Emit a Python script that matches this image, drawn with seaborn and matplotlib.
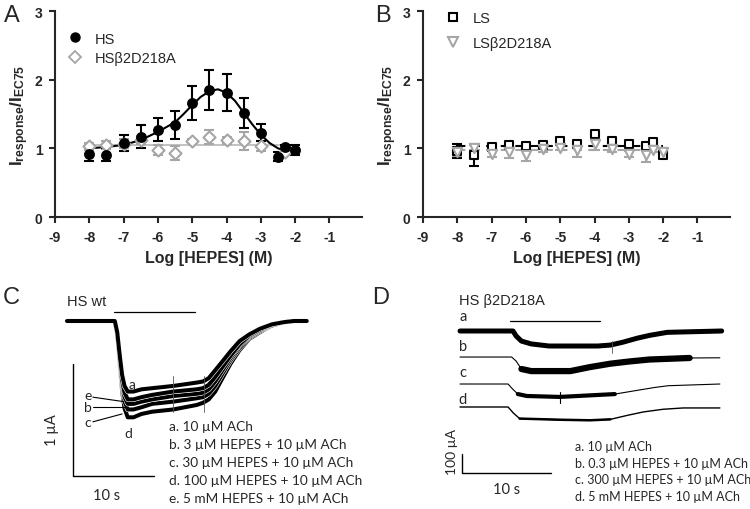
"""
HEPES modulation of HS / LS receptors: concentration-response and current traces.
"""
import matplotlib
matplotlib.use('Agg')
import matplotlib.pyplot as plt
import matplotlib.patheffects as pe
from matplotlib.lines import Line2D
import seaborn as sns
import pandas as pd

# ---- panel A: log[HEPES] vs normalised response ----
hs_logc = [-8, -7.5, -7, -6.5, -6, -5.5, -5, -4.5, -4, -3.5, -3, -2.5, -2.3, -2]
hs_resp = [0.92, 0.91, 1.08, 1.17, 1.27, 1.34, 1.66, 1.85, 1.81, 1.52, 1.23, 0.88, 1.02, 0.98]
hs_err = [0.10, 0.10, 0.12, 0.17, 0.17, 0.21, 0.25, 0.29, 0.27, 0.22, 0.12, 0.06, 0.03, 0.07]
hs_fit_x = [-8, -7.5, -7, -6.5, -6, -5.5, -5.25, -5, -4.75, -4.5, -4.25, -4,
            -3.75, -3.5, -3.25, -3, -2.75, -2.5, -2.3]
hs_fit_y = [1.00, 1.02, 1.05, 1.12, 1.24, 1.38, 1.50, 1.63, 1.75, 1.83, 1.86, 1.81,
            1.69, 1.52, 1.35, 1.20, 1.08, 1.00, 0.97]

hsm_logc = [-8, -7.5, -7, -6.5, -6, -5.5, -5, -4.5, -4, -3.5, -3, -2.3]
hsm_resp = [1.03, 1.05, 1.07, 1.12, 0.98, 0.93, 1.11, 1.16, 1.12, 1.11, 1.03, 0.94]
hsm_err = [0.05, 0.06, 0.07, 0.06, 0.07, 0.10, 0.03, 0.10, 0.05, 0.13, 0.07, 0.04]
hsm_fit_x = [-8, -2.3]
hsm_fit_y = [1.05, 1.05]

# ---- panel B ----
ls_logc = [-8, -7.5, -7, -6.5, -6, -5.5, -5, -4.5, -4, -3.5, -3, -2.5, -2.3, -2]
ls_resp = [0.96, 0.90, 1.02, 1.05, 1.03, 1.05, 1.10, 1.06, 1.21, 1.11, 1.06, 1.04, 1.09, 0.91]
ls_err = [0.10, 0.15, 0.04, 0.03, 0.04, 0.03, 0.03, 0.03, 0.03, 0.03, 0.03, 0.03, 0.03, 0.05]
lsm_resp = [0.94, 1.01, 0.92, 0.94, 0.90, 0.99, 1.01, 0.98, 1.07, 0.99, 0.92, 0.90, 0.98, 0.94]
lsm_err = [0.05, 0.04, 0.04, 0.08, 0.08, 0.05, 0.04, 0.10, 0.10, 0.04, 0.04, 0.10, 0.03, 0.03]
ls_fit_x = [-8, -2]
ls_fit_y = [1.04, 1.04]
lsm_fit_y = [0.97, 0.97]

# ---- panel C: HS wt traces (s, uA) ----
c_time = [0, 5.9, 6.2, 6.5, 6.8, 7.1, 7.5, 8.2, 9.2, 10.5, 13.1, 16.0, 16.8, 17.5,
          18.3, 19.2, 20.2, 21.3, 22.5, 23.8, 25.3, 26.8, 28.0, 29.6]
c_traces = {
    'a': [0, 0, -0.10, -0.30, -0.48, -0.58, -0.63, -0.63, -0.61, -0.60, -0.58, -0.55, -0.54, -0.51,
          -0.44, -0.36, -0.27, -0.18, -0.12, -0.07, -0.03, -0.01, 0, 0],
    'e': [0, 0, -0.11, -0.33, -0.53, -0.64, -0.70, -0.70, -0.68, -0.66, -0.63, -0.61, -0.60, -0.57,
          -0.50, -0.41, -0.31, -0.21, -0.13, -0.08, -0.03, -0.01, 0, 0],
    'b': [0, 0, -0.11, -0.34, -0.55, -0.68, -0.74, -0.74, -0.72, -0.70, -0.67, -0.65, -0.64, -0.61,
          -0.54, -0.44, -0.33, -0.22, -0.14, -0.08, -0.04, -0.01, 0, 0],
    'c': [0, 0, -0.12, -0.36, -0.58, -0.72, -0.79, -0.79, -0.77, -0.74, -0.72, -0.69, -0.68, -0.65,
          -0.58, -0.47, -0.35, -0.24, -0.15, -0.09, -0.04, -0.01, 0, 0],
    'd': [0, 0, -0.12, -0.38, -0.62, -0.78, -0.86, -0.86, -0.83, -0.81, -0.79, -0.75, -0.73, -0.70,
          -0.63, -0.51, -0.38, -0.26, -0.16, -0.10, -0.04, -0.01, 0, 0],
}
c_legend = ['a. 10 µM ACh', 'b. 3 µM HEPES + 10 µM ACh', 'c. 30 µM HEPES + 10 µM ACh',
            'd. 100 µM HEPES + 10 µM ACh', 'e. 5 mM HEPES + 10 µM ACh']

# ---- panel D: HS b2D218A traces (s, uA, each relative to its own baseline) ----
d_time = {
    'a': [0, 5.96, 6.3, 6.9, 8.0, 10.0, 15.5, 16.9, 18.3, 19.9, 21.3, 23.3, 29.4],
    'b': [0, 5.8, 6.3, 6.9, 8.0, 12.4, 14.6, 16.9, 19.1, 21.3, 23.6, 25.8, 29.2],
    'c': [0, 5.4, 5.9, 6.5, 7.5, 11.2, 17.4, 19.7, 21.9, 23.4, 29.2],
    'd': [0, 5.4, 6.0, 6.7, 11.2, 14.6, 16.9, 18.8, 20.6, 22.8, 25.1, 29.2],
}
d_curr = {
    'a': [0, 0, -26, -53, -68, -79, -79, -74, -59, -38, -23, -7, 0],
    'b': [0, 0, -21, -63, -74, -74, -53, -35, -23, -13, -9, -5, -4],
    'c': [0, 0, -26, -53, -63, -68, -53, -35, -18, -9, 0],
    'd': [0, 0, -32, -61, -67, -70, -65, -44, -26, -12, -5, -5],
}
d_legend = ['a. 10 µM ACh', 'b. 0.3 µM HEPES + 10 µM ACh',
            'c. 300 µM HEPES + 10 µM ACh', 'd. 5 mM HEPES + 10 µM ACh']

W, H = 750, 510
GRAY = '#a6a6a6'
LIGHT = '#bdbdbd'

sns.set_style('ticks')
plt.rcParams['font.family'] = ['Liberation Sans', 'DejaVu Sans']
plt.rcParams['axes.unicode_minus'] = False
plt.rcParams['mathtext.fontset'] = 'custom'
plt.rcParams['mathtext.bf'] = 'Liberation Sans:bold'
plt.rcParams['mathtext.rm'] = 'Liberation Sans:bold'

fig = plt.figure(figsize=(W / 100, H / 100), dpi=100)


def px_rect(x0, y0, x1, y1):
    return [x0 / W, 1 - y1 / H, (x1 - x0) / W, (y1 - y0) / H]


def fig_text(x, y, s, **kw):
    fig.text(x / W, 1 - y / H, s, **kw)


def style_dose_axes(ax):
    ax.set_xlim(-9, -0.05)
    ax.set_ylim(0, 3)
    ax.set_xticks(range(-9, 0))
    ax.set_yticks([0, 1, 2, 3])
    sns.despine(ax=ax)
    for s in ['left', 'bottom']:
        ax.spines[s].set_linewidth(1.5)
    ax.tick_params(width=1.5, length=4, labelsize=10, pad=5)
    for lab in ax.get_xticklabels() + ax.get_yticklabels():
        lab.set_fontweight('bold')
    ax.set_xlabel('Log [HEPES] (M)', fontsize=11.5, fontweight='bold', labelpad=5)
    ax.set_ylabel(r'$\mathbf{I_{response}/I_{EC75}}$', fontsize=12.5, labelpad=3)


def points(ax, x, y, err, marker, face, edge, size, color):
    ax.errorbar(x, y, yerr=err, fmt='none', ecolor=color, elinewidth=1.5,
                capsize=3.5, capthick=1.5, zorder=2)
    sns.scatterplot(x=x, y=y, ax=ax, marker=marker, s=size, facecolor=face,
                    edgecolor=edge, linewidth=1.5, zorder=3, legend=False)


# ---------------- A ----------------
axA = fig.add_axes(px_rect(55, 12, 362, 218))
sns.lineplot(x=hsm_fit_x, y=hsm_fit_y, ax=axA, color=LIGHT, lw=1.3, zorder=1)
points(axA, hsm_logc, hsm_resp, hsm_err, 'D', 'white', GRAY, 38, GRAY)
sns.lineplot(x=hs_fit_x, y=hs_fit_y, ax=axA, color='black', lw=1.5, zorder=2)
points(axA, hs_logc, hs_resp, hs_err, 'o', 'black', 'black', 40, 'black')
style_dose_axes(axA)
handles = [Line2D([], [], marker='o', ls='', color='black', ms=6.5),
           Line2D([], [], marker='D', ls='', mfc='white', mec=GRAY, mew=1.3, ms=6)]
axA.legend(handles, ['HS', 'HSβ2D218A'], loc='upper left', bbox_to_anchor=(0.04, 0.9),
           frameon=False, fontsize=10.5, handlelength=1, handletextpad=0.9,
           labelspacing=0.35, borderpad=0, borderaxespad=0)

# ---------------- B ----------------
axB = fig.add_axes(px_rect(423, 12, 730, 218))
sns.lineplot(x=ls_fit_x, y=ls_fit_y, ax=axB, color='black', lw=1.5, ls=(0, (4, 3)), zorder=1)
sns.lineplot(x=ls_fit_x, y=lsm_fit_y, ax=axB, color=GRAY, lw=1.5, ls=(0, (4, 3)), zorder=1)
points(axB, ls_logc, ls_resp, ls_err, 's', 'white', 'black', 38, 'black')
points(axB, ls_logc, lsm_resp, lsm_err, 'v', 'white', GRAY, 45, GRAY)
style_dose_axes(axB)
handles = [Line2D([], [], marker='s', ls='', mfc='white', mec='black', mew=1.5, ms=6),
           Line2D([], [], marker='v', ls='', mfc='white', mec=GRAY, mew=1.5, ms=7)]
axB.legend(handles, ['LS', 'LSβ2D218A'], loc='upper left', bbox_to_anchor=(0.073, 1.0),
           frameon=False, fontsize=10.5, handlelength=1, handletextpad=0.9,
           labelspacing=0.75, borderpad=0, borderaxespad=0)

fig_text(12, 16, 'A', fontsize=17, ha='center', va='center')
fig_text(383, 16, 'B', fontsize=17, ha='center', va='center')

# ---------------- C ----------------
# 8.1 px per s, 112 px per uA; t=0 at x=67 px, baseline at y=322 px
axC = fig.add_axes(px_rect(30, 285, 380, 510))
axC.set_xlim((30 - 67) / 8.1, (380 - 67) / 8.1)
axC.set_ylim((322 - 510) / 112, (322 - 285) / 112)
axC.axis('off')
for key in ['d', 'c', 'b', 'e', 'a']:
    sns.lineplot(x=c_time, y=c_traces[key], ax=axC, color='black', lw=2.9,
                 estimator=None, sort=False,
                 path_effects=[pe.Stroke(linewidth=3.7, foreground='white'), pe.Normal()])
# perfusion bar, artefact ticks, scale bars
axC.plot([5.8, 15.8], [0.08, 0.08], color='black', lw=0.9)
for t in [13.1, 16.9]:
    axC.plot([t, t], [-0.49, -0.81], color='#555555', lw=0.6)
axC.plot([0.74, 0.74, 10.74], [-0.384, -1.384, -1.384], color='black', lw=1.0)
# pointer lines for e, b, c
for (x0, y0, x1, y1) in [(3.2, -0.68, 7.0, -0.72), (3.2, -0.77, 7.0, -0.77), (3.2, -0.90, 6.8, -0.83)]:
    axC.plot([x0, x1], [y0, y1], color='black', lw=0.8)

fig_text(11, 298, 'C', fontsize=17, ha='center', va='center')
fig_text(67, 302, 'HS wt', fontsize=10.5, ha='left', va='center')
cal = ['Lato', 'DejaVu Sans']
fig_text(132, 385, 'a', fontsize=10, ha='center', va='center', family=cal)
fig_text(88, 396, 'e', fontsize=10, ha='center', va='center', family=cal)
fig_text(88, 408, 'b', fontsize=10, ha='center', va='center', family=cal)
fig_text(88, 423, 'c', fontsize=10, ha='center', va='center', family=cal)
fig_text(128, 434, 'd', fontsize=10, ha='center', va='center', family=cal)
fig_text(52, 430, '1 µA', fontsize=10.5, rotation=90, ha='center', va='center', family=cal)
fig_text(107, 496, '10 s', fontsize=10.5, ha='center', va='center', family=cal)
for i, line in enumerate(c_legend):
    fig_text(169, 427 + i * 18, line, fontsize=9.8, ha='left', va='center', family=cal)

# ---------------- D ----------------
# 8.9 px per s, 0.19 px per uA; t=0 at x=460 px, trace a baseline at y=332 px
axD = fig.add_axes(px_rect(440, 285, 745, 510))
axD.set_xlim((440 - 460) / 8.9, (745 - 460) / 8.9)
axD.set_ylim((332 - 510) / 0.19, (332 - 285) / 0.19)
axD.axis('off')
offsets = {'a': 0, 'b': -137, 'c': -279, 'd': -400}
# (thin line width, noisy band width, band start, band end) in pt / s
band = {'a': (2.6, 3.6, 0, 29.4), 'b': (0.8, 4.5, 6.6, 25.8),
        'c': (0.8, 3.0, 6.3, 18.0), 'd': (1.0, 1.8, 6.5, 18.0)}
for key in ['a', 'b', 'c', 'd']:
    df = pd.DataFrame({'t': d_time[key], 'i': d_curr[key]})
    df['i'] = df['i'] + offsets[key]
    thin, thick, t0, t1 = band[key]
    sns.lineplot(data=df, x='t', y='i', ax=axD, color='black', lw=thin,
                 estimator=None, sort=False)
    seg = df[(df['t'] >= t0) & (df['t'] <= t1)]
    sns.lineplot(data=seg, x='t', y='i', ax=axD, color='black', lw=thick,
                 estimator=None, sort=False)
axD.plot([17.1, 17.1], [-55, -115], color='#555555', lw=0.6)
axD.plot([11.2, 11.2], [-279 - 40, -279 - 100], color='black', lw=0.8)
axD.plot([5.6, 15.7], [53, 53], color='black', lw=0.9)
axD.plot([0.22, 0.22, 10.22], [-647, -747, -747], color='black', lw=1.0)

fig_text(381, 298, 'D', fontsize=17, ha='center', va='center')
fig_text(459, 301, 'HS β2D218A', fontsize=10.5, ha='left', va='center')
for key, yy in zip(['a', 'b', 'c', 'd'], [317, 347, 373, 400]):
    fig_text(463, yy, key, fontsize=10.5, ha='center', va='center', family=cal)
fig_text(452, 452, '100 µA', fontsize=10, rotation=90, ha='center', va='center', family=cal)
fig_text(507, 490, '10 s', fontsize=10.5, ha='center', va='center', family=cal)
for i, line in enumerate(d_legend):
    fig_text(575, 447 + i * 16.7, line, fontsize=9.0, ha='left', va='center', family=cal)

plt.savefig('out.png', dpi=100)
